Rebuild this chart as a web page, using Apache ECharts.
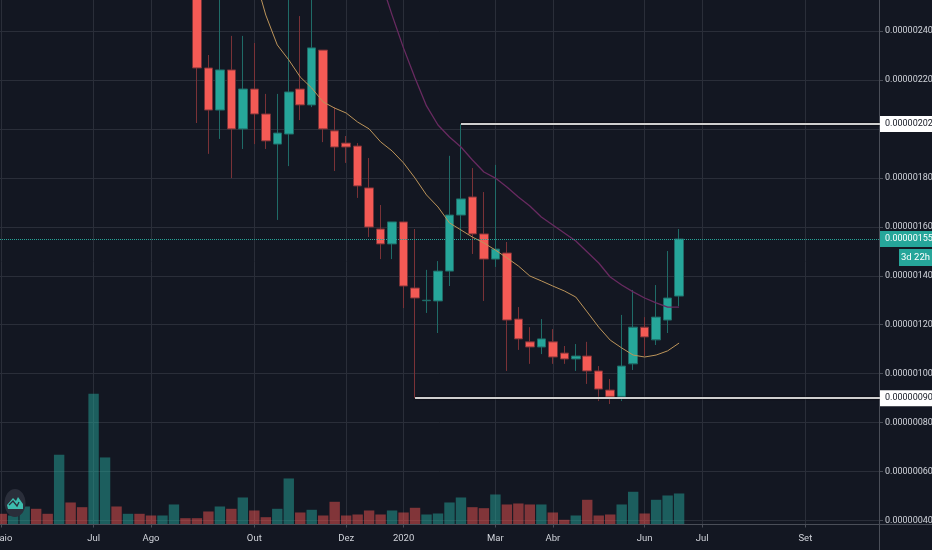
<!DOCTYPE html>
<html>
<head>
<meta charset="utf-8">
<style>html,body{margin:0;padding:0;background:#131722}#c{width:932px;height:550px}</style>
<script src="https://cdn.jsdelivr.net/npm/echarts@6/dist/echarts.min.js"></script>
</head>
<body>
<div id="c"></div>
<script>
// Weekly bars; prices in units of 0.00000001
const weekCount = 77;
const tickWeeks = [0, 8, 13, 22, 30, 35, 43, 48, 56, 61, 70];
const tickLabels = ['Maio', 'Jul', 'Ago', 'Out', 'Dez', '2020', 'Mar', 'Abr', 'Jun', 'Jul', 'Set'];
const pad = n => new Array(n).fill('-');

const firstCandle = 17;
const opens  = [258,224.9,207.7,224.1,200,216.3,206.1,193.8,197.9,216.3,209.8,232.2,199.2,194.2,193,175.9,159.1,153,162,135,129.8,129.7,141.9,164.8,172.2,157.1,146.8,149.3,122.3,113,110.9,113,108.4,106,107.2,101.1,93.3,90.4,104,119,113.8,121.9,131.7];
const closes = [224.9,207.7,224.1,200,216.3,206.1,195.1,198.3,215.1,209.8,233.1,200,192.6,192.6,176.7,159.9,153,162,135.8,130.9,130,141.9,164.8,171.4,157.1,146.8,150.9,121.9,114.2,110.9,114.2,106.8,106,107.2,101.1,93.7,90.4,103.1,119,115,123.1,130.9,155];
const lows   = [202.4,189.8,195.9,179.9,191.8,193.8,191.8,162.8,184.8,203.6,208.9,194.6,182.8,186.1,171.8,155.8,146.8,146.8,126.8,90,124.8,116.6,135.8,155,148.9,129.7,143.6,101.1,109.7,104,108,104,104,101.1,95.8,88.8,87.6,88.8,101.5,107.2,111.7,116.6,127.6];
const highs  = [265,230.2,262,238,238,235.1,214.3,214.3,258,246.1,258,232.2,208.9,197.1,194.2,188.1,168.9,162,162,159.1,142.4,146,189,202,184,174.2,185.3,153.8,127.2,119,122.3,118.2,111.3,112.1,113,103.1,97.8,124,134.2,123.1,136.2,150.1,159.1];

const volumes = [10.7,9,18,15.7,10.7,69.7,22,17.3,130.7,67,18,10.7,10.7,9,9,20,6.3,6.3,13,18,15.7,27,14,7.3,15.7,46,12,14.7,9,22.7,9,10,14,10,14,12,16.7,10,11,22,27,17.3,16.3,30,20,21,20,20,12,4.7,9,24.7,9,10,20,32.7,11,24.7,29,31];
const volumeUp = [0,1,1,0,0,1,0,0,1,1,0,1,0,0,1,1,0,0,0,1,0,1,0,0,1,1,0,1,0,0,0,0,0,0,1,0,0,1,1,1,1,0,0,1,0,0,0,1,0,0,1,0,0,0,1,1,0,1,1,1];

const orangeStart = 22;
const orangeMA = [263,246.5,234.3,228.2,221.2,216.7,211,208.5,206.5,202.8,200,194.7,191,186.1,179.9,173,168.1,161.6,158.7,155.8,153.4,150.5,147.3,144,139.9,137.9,135.8,133.8,131.3,125.2,119,113.7,110.5,107.6,106.8,107.6,109.3,112.5];
const purpleStart = 33;
const purpleMA = [260.8,246.5,233,220.8,209.4,201.6,196.7,192.6,187.3,182.4,179.9,176.3,172.2,168.5,164,160.7,157.5,154.2,149.7,145.2,139.5,136.2,133.4,130.9,128.9,127.2,127.2];

const lastPrice = 155;
const upperLevel = 202, upperLevelWeek = 40;
const lowerLevel = 90, lowerLevelWeek = 36;
const countdownText = '3d 22h';

const BG = '#131722', GRID = '#2a2e39', AXIS = '#4a4e58', TEXT = '#d0d3da';
const UP = '#26a69a', DOWN = '#f45a55', UPW = '#1f6b67', DOWNW = '#7a3237';
const FONT = 'Roboto,sans-serif';

const categories = Array.from({length: weekCount}, (_, i) => String(i));
const isTick = i => tickWeeks.indexOf(+i) >= 0;
const fmtPrice = v => (v / 1e8).toFixed(8);

const candleData = pad(firstCandle).concat(opens.map((o, i) => [o, closes[i], lows[i], highs[i]]));
const volData = volumes.map((v, i) => ({
  value: v,
  itemStyle: {color: volumeUp[i] ? 'rgba(38,166,154,0.5)' : 'rgba(239,83,80,0.5)'}
}));

const levelLine = {color: '#cfcfcf', width: 2, type: 'solid', shadowColor: '#000', shadowBlur: 2};
const levelLabel = v => ({
  show: true, position: 'end', distance: 0, color: '#131722', fontFamily: FONT, fontSize: 9,
  backgroundColor: '#fff', padding: [4, 1, 3, 5], formatter: () => fmtPrice(v)
});

const chart = echarts.init(document.getElementById('c'), null, {renderer: 'canvas'});
chart.setOption({
  animation: false,
  backgroundColor: BG,
  grid: [
    {left: -4, width: 884, top: -17.95, bottom: 29.5, containLabel: false, outerBoundsMode: 'none'},
    {left: -4, width: 884, top: -18, bottom: 25.5, containLabel: false, outerBoundsMode: 'none'}
  ],
  xAxis: [
    {type: 'category', gridIndex: 0, data: categories, show: false},
    {
      type: 'category', gridIndex: 1, data: categories,
      axisLine: {show: false},
      axisTick: {show: true, alignWithLabel: true, length: 3, interval: i => isTick(i), lineStyle: {color: AXIS}},
      axisLabel: {
        show: true, interval: i => isTick(i), margin: 9, color: TEXT, fontFamily: FONT, fontSize: 9.5,
        formatter: v => { const k = tickWeeks.indexOf(+v); return k >= 0 ? tickLabels[k] : ''; }
      },
      splitLine: {show: true, alignWithLabel: true, interval: i => isTick(i), lineStyle: {color: GRID, width: 1}}
    }
  ],
  yAxis: [
    {
      type: 'value', gridIndex: 0, position: 'right', min: 40, max: 260, interval: 20, scale: true,
      axisLine: {show: false},
      axisTick: {show: true, length: 3, lineStyle: {color: AXIS}},
      axisLabel: {show: true, inside: false, margin: 5, color: TEXT, fontFamily: FONT, fontSize: 9, formatter: fmtPrice, showMinLabel: true, showMaxLabel: false},
      splitLine: {show: true, lineStyle: {color: GRID, width: 1}}
    },
    {type: 'value', gridIndex: 1, min: 0, max: 542, show: false, splitLine: {show: false}}
  ],
  series: [
    {
      type: 'bar', name: 'Volume', xAxisIndex: 1, yAxisIndex: 1, data: volData,
      barWidth: 10.4, z: 1, silent: true
    },
    {
      type: 'candlestick', name: 'Price', xAxisIndex: 0, yAxisIndex: 0, data: candleData,
      barWidth: 9, z: 3, silent: true,
      itemStyle: {color: UP, color0: DOWN, borderColor: UPW, borderColor0: DOWNW, borderColorDoji: UPW, borderWidth: 1}
    },
    {
      type: 'line', name: 'MA long', xAxisIndex: 0, yAxisIndex: 0, z: 4, silent: true,
      data: pad(purpleStart).concat(purpleMA), symbol: 'none', lineStyle: {color: '#682a60', width: 1.3}
    },
    {
      type: 'line', name: 'MA short', xAxisIndex: 0, yAxisIndex: 0, z: 4, silent: true,
      data: pad(orangeStart).concat(orangeMA), symbol: 'none', lineStyle: {color: '#bc945a', width: 1},
      markLine: {
        silent: true, symbol: 'none', animation: false, z: 6,
        data: [
          [{coord: [String(upperLevelWeek), upperLevel], lineStyle: levelLine, label: levelLabel(upperLevel)},
           {x: 880, coord: [Infinity, upperLevel]}],
          [{coord: [String(lowerLevelWeek), lowerLevel], lineStyle: levelLine, label: levelLabel(lowerLevel)},
           {x: 880, coord: [Infinity, lowerLevel]}],
          {yAxis: lastPrice,
           lineStyle: {color: UP, width: 1, type: [1, 1]},
           label: Object.assign(levelLabel(lastPrice), {color: '#fff', backgroundColor: UP})}
        ]
      }
    }
  ],
  graphic: [
    {type: 'line', z: 5, silent: true, shape: {x1: 879.5, y1: 0, x2: 879.5, y2: 550}, style: {stroke: AXIS, lineWidth: 1}},
    {type: 'rect', z: 5, silent: true, shape: {x: 880, y: 524.5, width: 52, height: 26}, style: {fill: BG}},
    {type: 'line', z: 5, silent: true, shape: {x1: 0, y1: 524.5, x2: 932, y2: 524.5}, style: {stroke: AXIS, lineWidth: 1}},
    {type: 'rect', z: 7, silent: true, shape: {x: 899, y: 249, width: 33, height: 17}, style: {fill: UP}},
    {type: 'text', z: 8, silent: true, x: 915.5, y: 257.5, style: {text: countdownText, fill: '#fff', font: '9.5px ' + FONT, align: 'center', verticalAlign: 'middle'}},
    {type: 'ellipse', z: 7, silent: true, shape: {cx: 15, cy: 503, rx: 10.5, ry: 14}, style: {fill: '#2a2e3a'}},
    {type: 'polygon', z: 8, silent: true, shape: {points: [[8,509],[7,505],[13,498],[16,501],[18,497],[23,504],[23,509]]}, style: {fill: '#3dbdae'}},
    {type: 'polyline', z: 9, silent: true, shape: {points: [[9,505],[13,501],[17,506],[19,502]]}, style: {stroke: '#2a2e3a', lineWidth: 1.3, fill: null}}
  ]
});
</script>
</body>
</html>
